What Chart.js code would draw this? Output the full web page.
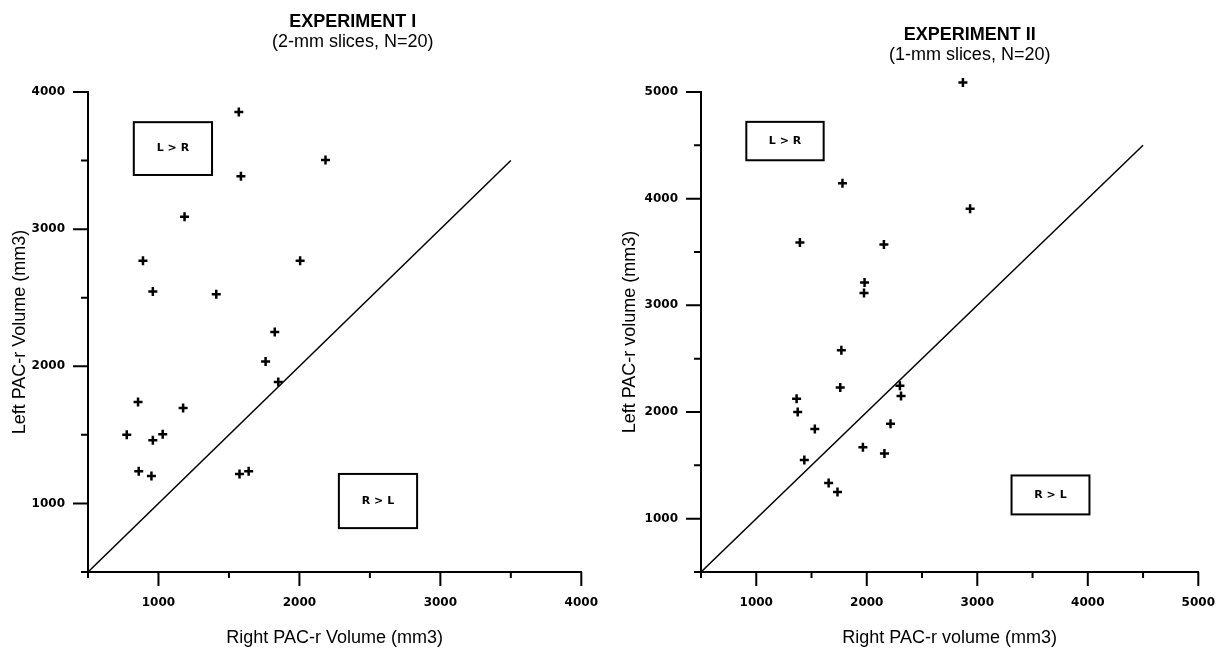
<!DOCTYPE html>
<html>
  <head>
    <title>PAC-r Volume</title>
    <script src="https://cdn.jsdelivr.net/npm/chart.js"></script>
    <style>
      body { margin: 0; background: #fff; overflow: hidden; }
      #wrap { position: relative; width: 1217px; height: 649px; overflow: hidden; }
      .panel { position: absolute; top: 0; height: 649px; }
    </style>
  </head>
  <body>
    <div id="wrap">
      <!-- x tick padding is added to the right margin (41px), so panels are a bit wider -->
      <div class="panel" style="left: 0; width: 622px"><canvas id="exp1"></canvas></div>
      <div class="panel" style="left: 610px; width: 629px"><canvas id="exp2"></canvas></div>
    </div>

    <script>
      // Experiment I (2-mm slices, N=20)
      const exp1Right = [1570, 2185, 1585, 1185, 890, 2005, 960, 1410, 1825, 1760, 1850, 855, 1175, 775, 960, 1030, 860, 950, 1575, 1640];
      const exp1Left = [3855, 3505, 3385, 3090, 2770, 2770, 2545, 2525, 2250, 2035, 1885, 1740, 1695, 1500, 1460, 1505, 1235, 1200, 1215, 1235];
      const exp1Diag = [500, 3500];

      // Experiment II (1-mm slices, N=20)
      const exp2Right = [2870, 1780, 2935, 1395, 2155, 1980, 1975, 1770, 1760, 2300, 2310, 1365, 1375, 1530, 2215, 1965, 2160, 1435, 1655, 1735];
      const exp2Left = [5090, 4145, 3905, 3590, 3570, 3215, 3115, 2580, 2230, 2245, 2150, 2125, 2000, 1840, 1890, 1670, 1610, 1550, 1335, 1250];
      const exp2Diag = [500, 4500];

      const tickFont = { family: "'DejaVu Sans', sans-serif", size: 12, weight: "bold" };
      const titleFont = { family: "'Liberation Sans', Arial, sans-serif", size: 18 };

      // title lines above the plot
      const panelTitle = {
        id: "panelTitle",
        afterDraw(chart, args, opts) {
          const { ctx, chartArea } = chart;
          const cx = (chartArea.left + chartArea.right) / 2 + opts.dx;
          ctx.save();
          ctx.fillStyle = "#000";
          ctx.textAlign = "center";
          ctx.textBaseline = "middle";
          opts.lines.forEach((line, i) => {
            ctx.font = (i === 0 ? "bold " : "") + "18px 'Liberation Sans', Arial, sans-serif";
            ctx.fillText(line, cx, opts.top + i * 20.5);
          });
          ctx.restore();
        },
      };

      // long ticks at 1000s, short ones in between
      const axisTicks = {
        id: "axisTicks",
        afterDraw(chart) {
          const { ctx, chartArea } = chart;
          const { x, y } = chart.scales;
          ctx.save();
          ctx.strokeStyle = "#000";
          ctx.lineWidth = 2;
          ctx.beginPath();
          x.ticks.forEach((t) => {
            const px = x.getPixelForValue(t.value);
            ctx.moveTo(px, chartArea.bottom);
            ctx.lineTo(px, chartArea.bottom + (t.value % 1000 === 0 ? 14 : 6));
          });
          y.ticks.forEach((t) => {
            const py = y.getPixelForValue(t.value);
            ctx.moveTo(chartArea.left, py);
            ctx.lineTo(chartArea.left - (t.value % 1000 === 0 ? 15 : 7), py);
          });
          ctx.stroke();
          ctx.restore();
        },
      };

      // points above the axis top (e.g. 5090) are skipped by Chart.js, draw them here
      const overflowPoints = {
        id: "overflowPoints",
        afterDatasetsDraw(chart) {
          const ca = chart.chartArea;
          const full = { left: 0, top: 0, right: chart.width, bottom: chart.height };
          chart.getDatasetMeta(0).data.forEach((pt) => {
            const m = 7.5;
            if (pt.y < ca.top - m || pt.y > ca.bottom + m || pt.x < ca.left - m || pt.x > ca.right + m) {
              pt.draw(chart.ctx, full);
            }
          });
        },
      };

      // "L > R" / "R > L" boxes, given in data units
      const regionBoxes = {
        id: "regionBoxes",
        afterDraw(chart, args, opts) {
          const { ctx } = chart;
          const { x, y } = chart.scales;
          ctx.save();
          opts.boxes.forEach((b) => {
            const l = x.getPixelForValue(b.x0);
            const r = x.getPixelForValue(b.x1);
            const t = y.getPixelForValue(b.y1);
            const btm = y.getPixelForValue(b.y0);
            ctx.fillStyle = "#fff";
            ctx.fillRect(l, t, r - l, btm - t);
            ctx.strokeStyle = "#000";
            ctx.lineWidth = 2;
            ctx.strokeRect(l, t, r - l, btm - t);
            ctx.fillStyle = "#000";
            ctx.font = "bold 11px 'DejaVu Sans', sans-serif";
            ctx.textAlign = "center";
            ctx.textBaseline = "middle";
            ctx.fillText(b.label, (l + r) / 2, (t + btm) / 2);
          });
          ctx.restore();
        },
      };

      function makeChart(id, cfg) {
        const points = cfg.right.map((v, i) => ({ x: v, y: cfg.left[i] }));
        const diag = cfg.diag.map((v) => ({ x: v, y: v }));
        return new Chart(document.getElementById(id), {
          type: "scatter",
          data: {
            datasets: [
              {
                data: points,
                pointStyle: "cross",
                pointRadius: 4.5,
                pointBorderWidth: 2.5,
                borderColor: "#000",
                backgroundColor: "#000",
                clip: false,
              },
              {
                data: diag,
                showLine: true,
                pointRadius: 0,
                borderColor: "#000",
                borderWidth: 1.5,
              },
            ],
          },
          options: {
            responsive: true,
            maintainAspectRatio: false,
            animation: false,
            layout: { padding: { top: 92, left: 0, right: 0, bottom: 0 } },
            plugins: {
              legend: { display: false },
              tooltip: { enabled: false },
              panelTitle: { lines: cfg.title, dx: cfg.titleDx, top: cfg.titleTop },
              regionBoxes: { boxes: cfg.boxes },
            },
            scales: {
              x: {
                type: "linear",
                min: 500,
                max: cfg.xMax,
                grid: { display: false, drawTicks: false },
                border: { display: true, color: "#000", width: 2 },
                ticks: {
                  stepSize: 500,
                  padding: 24,
                  color: "#000",
                  font: tickFont,
                  maxRotation: 0,
                  autoSkip: false,
                  callback: (v) => (v % 1000 === 0 ? v : ""),
                },
                title: { display: true, text: cfg.xTitle, color: "#000", font: titleFont, padding: 0 },
                afterFit: (s) => { s.height = 77; },
              },
              y: {
                type: "linear",
                min: 500,
                max: cfg.yMax,
                grid: { display: false, drawTicks: false },
                border: { display: true, color: "#000", width: 2 },
                ticks: {
                  stepSize: 500,
                  padding: 23,
                  color: "#000",
                  font: tickFont,
                  autoSkip: false,
                  callback: (v) => (v % 1000 === 0 ? v : ""),
                },
                title: { display: true, text: cfg.yTitle, color: "#000", font: titleFont, padding: { top: 9, bottom: 0 } },
                afterFit: (s) => { s.width = cfg.yWidth; },
              },
            },
          },
          plugins: [panelTitle, axisTicks, overflowPoints, regionBoxes],
        });
      }

      makeChart("exp1", {
        right: exp1Right,
        left: exp1Left,
        diag: exp1Diag,
        xMax: 4000,
        yMax: 4000,
        yWidth: 88,
        title: ["EXPERIMENT I", "(2-mm slices, N=20)"],
        titleDx: 18,
        titleTop: 22,
        xTitle: "Right PAC-r Volume (mm3)",
        yTitle: "Left PAC-r Volume (mm3)",
        boxes: [
          { x0: 825, x1: 1380, y0: 3395, y1: 3780, label: "L > R" },
          { x0: 2280, x1: 2835, y0: 820, y1: 1215, label: "R > L" },
        ],
      });

      makeChart("exp2", {
        right: exp2Right,
        left: exp2Left,
        diag: exp2Diag,
        xMax: 5000,
        yMax: 5000,
        yWidth: 91,
        title: ["EXPERIMENT II", "(1-mm slices, N=20)"],
        titleDx: 20,
        titleTop: 35,
        xTitle: "Right PAC-r volume (mm3)",
        yTitle: "Left PAC-r volume (mm3)",
        boxes: [
          { x0: 910, x1: 1610, y0: 4360, y1: 4720, label: "L > R" },
          { x0: 3310, x1: 4015, y0: 1040, y1: 1405, label: "R > L" },
        ],
      });
    </script>
  </body>
</html>
